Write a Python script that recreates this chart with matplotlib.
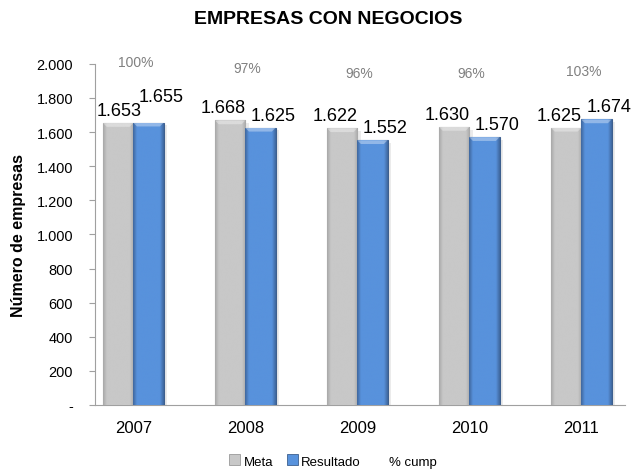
import numpy as np
import matplotlib
matplotlib.use("Agg")
import matplotlib.pyplot as plt
from matplotlib import font_manager
from matplotlib.patches import Patch
from matplotlib.lines import Line2D
from matplotlib.ticker import FuncFormatter, MultipleLocator

plt.rcParams['font.family'] = ['Liberation Sans', 'DejaVu Sans']

# condensed face for the axis numbers, when available
try:
    font_manager.findfont('Liberation Sans Narrow', fallback_to_default=False)
    NARROW = ['Liberation Sans Narrow', 'Liberation Sans']
    narrow_scale = 1.0
except ValueError:
    NARROW = ['Liberation Sans', 'DejaVu Sans']
    narrow_scale = 0.95

# Data
years = ['2007', '2008', '2009', '2010', '2011']
meta = [1653, 1668, 1622, 1630, 1625]
resultado = [1655, 1625, 1552, 1570, 1674]
pct_cump = [100, 97, 96, 96, 103]

# Layout of the percentage labels along the top (in axis units)
pct_label_y = [2012, 1976, 1947, 1947, 1959]

GRAY = '#C8C8C8'
GRAY_EDGE = '#9A9A9A'
BLUE = '#5892DC'
BLUE_EDGE = '#3D5F8E'

fig = plt.figure(figsize=(6.39, 4.77), dpi=100)
ax = fig.add_axes([0.149, 0.149, 0.829, 0.715])

x = np.arange(len(years))
w = 0.27


def shaded_bars(xpos, heights, color, edge, dark, light):
    bars = ax.bar(xpos, heights, width=w, color=color, edgecolor=edge,
                  linewidth=0.8, zorder=3)
    # horizontal shading: darker rims, lighter body
    grad = np.linspace(0, 1, 64)
    prof = np.clip(np.minimum(grad, 1 - grad) * 8, 0, 1)
    c_dark = np.array(matplotlib.colors.to_rgb(dark))
    c_light = np.array(matplotlib.colors.to_rgb(light))
    img = (c_dark[None, :] * (1 - prof[:, None]) + c_light[None, :] * prof[:, None])
    img = img[None, :, :]
    for b in bars:
        x0, y0 = b.get_x(), b.get_y()
        bw, bh = b.get_width(), b.get_height()
        im = ax.imshow(img, extent=[x0, x0 + bw, y0, y0 + bh], aspect='auto',
                       zorder=3.5, interpolation='bilinear')
        im.set_clip_path(b)
        # bevelled top highlight
        top = bh - 22
        ax.fill([x0, x0 + bw, x0 + bw * 0.88, x0 + bw * 0.12],
                [y0 + bh, y0 + bh, y0 + top, y0 + top],
                color='white', alpha=0.35, lw=0, zorder=3.6)
        # soft shadow on the right
        ax.fill([x0 + bw, x0 + bw + 0.03, x0 + bw + 0.03, x0 + bw],
                [0, 0, bh - 15, bh - 15], color='#000000', alpha=0.08,
                lw=0, zorder=2.5)
    return bars


shaded_bars(x - w / 2, meta, GRAY, GRAY_EDGE, '#A9A9A9', GRAY)
shaded_bars(x + w / 2, resultado, BLUE, BLUE_EDGE, '#40689E', BLUE)

def fmt_thousands(v):
    return f'{v:,.0f}'.replace(',', '.')

for i in range(len(years)):
    crowded = abs(meta[i] - resultado[i]) < 20
    ax.annotate(fmt_thousands(meta[i]), (x[i] - w / 2, meta[i]),
                xytext=(1 if crowded else -5, 3), textcoords='offset points',
                ha='center', va='bottom', fontsize=13, color='black', zorder=5)
    ax.annotate(fmt_thousands(resultado[i]), (x[i] + w / 2, resultado[i]),
                xytext=(9, 13 if crowded else 3), textcoords='offset points',
                ha='center', va='bottom', fontsize=13, color='black', zorder=5)
    ax.text(x[i] + 0.02, pct_label_y[i], f'{pct_cump[i]}%', ha='center',
            va='center', fontsize=10, color='#808080', zorder=5)

ax.set_xlim(-0.34, 4.39)
ax.set_ylim(0, 2000)
ax.yaxis.set_major_locator(MultipleLocator(200))
ax.yaxis.set_major_formatter(FuncFormatter(
    lambda v, p: '-' if v == 0 else fmt_thousands(v)))
ax.set_xticks(x)
ax.set_xticklabels(years, fontsize=12)
ax.tick_params(axis='x', length=0, pad=11)
ax.tick_params(axis='y', length=4, color='#A0A0A0', pad=12)
for lab in ax.get_yticklabels():
    lab.set_family(NARROW)
    lab.set_fontsize(11 * narrow_scale)

for s in ['top', 'right']:
    ax.spines[s].set_visible(False)
ax.spines['left'].set_color('#A0A0A0')
ax.spines['bottom'].set_color('#A0A0A0')

ax.set_ylabel('Número de empresas', fontsize=11.5, fontweight='bold')
ax.yaxis.set_label_coords(-0.13, 0.5)

fig.text(328 / 639, 1 - 20 / 477, 'EMPRESAS CON NEGOCIOS', ha='center',
         va='center', fontsize=14, fontweight='bold')

handles = [Patch(facecolor=GRAY, edgecolor=GRAY_EDGE, linewidth=0.6),
           Patch(facecolor=BLUE, edgecolor=BLUE_EDGE, linewidth=0.6),
           Line2D([], [], color='none')]
leg = fig.legend(handles, ['Meta', 'Resultado', '% cump'], loc='center',
                 bbox_to_anchor=(333 / 639, 1 - 462 / 477), ncol=3,
                 frameon=False, handlelength=0.8, handleheight=0.8,
                 handletextpad=0.25, columnspacing=1.0)
for t in leg.get_texts():
    t.set_family(NARROW)
    t.set_fontsize(10 * narrow_scale)

fig.savefig('out.png', dpi=100)
